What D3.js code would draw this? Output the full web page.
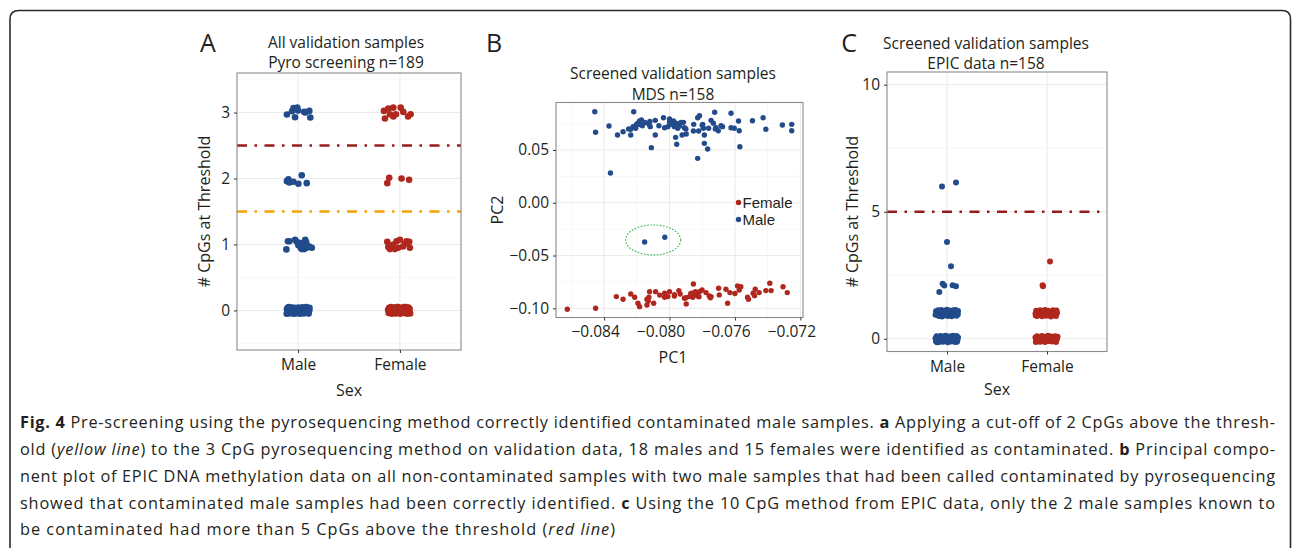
<!DOCTYPE html>
<html><head><meta charset="utf-8">
<script src="https://cdn.jsdelivr.net/npm/d3@7"></script>
<style>
body{margin:0;background:#fff}
svg{display:block}
text{font-family:"Open Sans",sans-serif;fill:#231f20}
</style>
</head><body>
<svg id="chart" width="1292" height="548"></svg>
<script>
// ---------- DATA ----------
const sexCategories = ["Male", "Female"];

// Panel A: pyro screening, [jitter offset (category units), # CpGs at threshold]
const pyroMale = [
  [-0.11,2.97],[-0.045,3.07],[-0.03,3.05],[-0.008,3.075],[0.0,3.03],[-0.03,2.93],[0.06,3.01],[0.07,3.0],[0.11,3.025],[0.12,2.925],[-0.06,3.02],
  [-0.11,1.96],[-0.095,1.99],[-0.085,1.94],[-0.046,1.95],[0.003,1.92],[0.036,2.05],[0.085,1.93],
  [-0.115,0.925],[-0.10,1.05],[-0.085,1.05],[-0.03,1.07],[-0.013,1.04],[0.003,0.99],[0.026,0.95],[0.05,1.0],[0.07,1.07],[0.08,1.03],[0.11,0.97],[0.135,0.95],[0.036,0.93],[0.06,0.93],[0.085,0.95],[0.02,1.02],
  [-0.11,0.02],[-0.105,-0.03],[-0.1,0.045],[-0.095,-0.045],[-0.085,0.0],[-0.08,0.035],[-0.075,-0.04],[-0.068,0.01],[-0.06,0.045],[-0.055,-0.025],[-0.048,-0.05],[-0.042,0.02],[-0.035,0.04],[-0.03,-0.01],[-0.022,-0.045],[-0.015,0.03],[-0.01,0.0],[-0.004,-0.035],[0.002,0.045],[0.008,0.012],[0.014,-0.02],[0.02,-0.05],[0.026,0.035],[0.032,0.0],[0.038,-0.03],[0.044,0.048],[0.05,0.015],[0.056,-0.045],[0.062,-0.01],[0.068,0.03],[0.074,-0.035],[0.08,0.05],[0.086,0.005],[0.092,-0.02],[0.098,0.035],[0.104,-0.048],[0.11,0.0],[0.112,0.04],[-0.112,-0.05],[-0.09,0.05]
];
const pyroFemale = [
  [-0.157,3.025],[-0.147,2.91],[-0.114,3.06],[-0.065,3.075],[-0.039,2.975],[0.007,3.075],[0.033,3.01],[0.08,2.94],[0.105,2.975],[-0.065,2.94],[-0.098,2.975],
  [-0.124,1.93],[-0.105,2.01],[0.016,2.0],[0.09,1.98],
  [-0.124,1.04],[-0.114,0.96],[-0.098,0.93],[-0.065,1.0],[-0.049,0.93],[-0.033,1.05],[0.0,1.07],[-0.016,0.95],[0.049,1.01],[0.065,1.05],[0.092,1.04],[0.098,0.95],[-0.08,0.98],[0.03,0.97],
  [-0.116,0.01],[-0.11,-0.04],[-0.105,0.04],[-0.095,-0.015],[-0.088,0.05],[-0.08,-0.05],[-0.072,0.02],[-0.065,-0.03],[-0.058,0.045],[-0.05,0.0],[-0.042,-0.045],[-0.035,0.03],[-0.027,-0.012],[-0.02,0.05],[-0.012,-0.035],[-0.005,0.015],[0.003,-0.05],[0.01,0.04],[0.018,-0.01],[0.025,0.025],[0.033,-0.04],[0.04,0.05],[0.048,0.0],[0.055,-0.028],[0.062,0.035],[0.07,-0.05],[0.077,0.01],[0.084,0.045],[0.09,-0.02],[0.096,0.02],[0.1,-0.045],[-0.1,0.0],[0.06,0.05],[-0.03,0.05],[0.015,0.0]
];
const pyroThresholds = [2.5, 1.5];
const pyroYTicks = [0, 1, 2, 3];

// Panel B: MDS, [PC1, PC2]
const mdsMale = [
  [-0.08457,0.0863],[-0.08452,0.0668],[-0.08370,0.0727],[-0.08361,0.0282],[-0.08318,0.0642],[-0.08284,0.0673],[-0.08237,0.0696],[-0.08237,0.0642],
  [-0.08219,0.0863],[-0.08223,0.0721],[-0.08203,0.0737],[-0.08193,0.0753],[-0.08183,0.0775],[-0.08172,0.0784],[-0.08207,0.0706],[-0.08166,0.0730],
  [-0.08126,0.0743],[-0.08118,0.0721],[-0.08087,0.0781],[-0.08087,0.0642],[-0.08111,0.0522],[-0.08065,0.0730],[-0.08037,0.0806],[-0.08030,0.0711],
  [-0.08000,0.0794],[-0.08010,0.0721],[-0.07990,0.0743],[-0.07976,0.0775],[-0.07970,0.0721],[-0.07959,0.0753],[-0.07950,0.0706],[-0.07963,0.0620],
  [-0.07956,0.0554],[-0.07939,0.0727],[-0.07915,0.0762],[-0.07909,0.0711],[-0.07923,0.0642],[-0.07898,0.0652],[-0.07852,0.0743],[-0.07854,0.0680],
  [-0.07828,0.0806],[-0.07817,0.0825],[-0.07822,0.0680],[-0.07828,0.0421],[-0.07797,0.0743],[-0.07787,0.0642],[-0.07787,0.0563],[-0.07767,0.0509],
  [-0.07793,0.0706],[-0.07761,0.0706],[-0.07746,0.0781],[-0.07732,0.0753],[-0.07724,0.0857],[-0.07716,0.0711],[-0.07702,0.0683],[-0.07685,0.0730],
  [-0.07676,0.0721],[-0.07624,0.0848],[-0.07624,0.0711],[-0.07604,0.0706],[-0.07578,0.0775],[-0.07574,0.0683],[-0.07570,0.0531],[-0.07493,0.0777],
  [-0.07428,0.0806],[-0.07411,0.0696],[-0.07310,0.0737],[-0.07253,0.0743],[-0.07253,0.0683],
  [-0.0820,0.0745],[-0.0818,0.0740],[-0.0815,0.0760],[-0.0812,0.0770],[-0.0797,0.0735],[-0.0796,0.0745],[-0.0793,0.0760],[-0.0800,0.0765],
  [-0.0790,0.0700],[-0.0825,0.0700],[-0.0772,0.0700],[-0.0780,0.0735],
  [-0.08152,-0.0371],[-0.08029,-0.0327]
];
const mdsFemale = [
  [-0.08625,-0.1009],[-0.08452,-0.0999],[-0.08325,-0.0889],[-0.08284,-0.0914],[-0.08237,-0.0864],[-0.08213,-0.0895],[-0.08193,-0.0952],[-0.08183,-0.0984],
  [-0.08138,-0.0914],[-0.08138,-0.0968],[-0.08122,-0.0842],[-0.08097,-0.0952],[-0.08085,-0.0842],[-0.08126,-0.0895],[-0.08030,-0.0857],[-0.08030,-0.0895],
  [-0.08000,-0.0842],[-0.08010,-0.0889],[-0.07970,-0.0883],[-0.07943,-0.0832],[-0.07935,-0.0864],[-0.07909,-0.0904],[-0.07898,-0.0958],[-0.07878,-0.0889],
  [-0.07862,-0.0857],[-0.07854,-0.0769],[-0.07858,-0.0895],[-0.07842,-0.0842],[-0.07828,-0.0883],[-0.07817,-0.0842],[-0.07801,-0.0826],[-0.07777,-0.0851],
  [-0.07757,-0.0883],[-0.07746,-0.0889],[-0.07700,-0.0810],[-0.07696,-0.0873],[-0.07655,-0.0819],[-0.07645,-0.0952],[-0.07631,-0.0851],[-0.07584,-0.0788],
  [-0.07574,-0.0826],[-0.07564,-0.0795],[-0.07523,-0.0895],[-0.07517,-0.0914],[-0.07489,-0.0857],[-0.07476,-0.0819],[-0.07452,-0.0851],[-0.07411,-0.0832],
  [-0.07387,-0.0762],[-0.07379,-0.0832],[-0.07306,-0.0795],[-0.07280,-0.0851],
  [-0.0797,-0.0870],[-0.0790,-0.0900],[-0.0784,-0.0870],[-0.0787,-0.0860],[-0.0782,-0.0890],[-0.0806,-0.0875],[-0.0813,-0.0930],[-0.0775,-0.0900],
  [-0.0760,-0.0860],[-0.0748,-0.0880]
];
const mdsXTicks = [-0.084, -0.080, -0.076, -0.072];
const mdsYTicks = [-0.10, -0.05, 0.00, 0.05];
const mdsHighlight = [-0.0810, -0.0352]; // centre of dotted ellipse around the 2 outlier males
const mdsLegend = ["Female", "Male"];

// Panel C: EPIC data, [jitter offset, # CpGs at threshold]
const epicMale = [
  [-0.05,5.99],[0.09,6.15],[0.0,3.81],[0.04,2.86],[-0.044,2.17],[-0.027,2.1],[-0.077,1.84],[0.056,2.11],[0.09,2.07],
  [-0.115,0.95],[-0.11,1.08],[-0.1,1.0],[-0.09,1.12],[-0.082,0.9],[-0.074,1.05],[-0.066,0.96],[-0.058,1.13],[-0.05,0.88],[-0.042,1.02],[-0.034,1.1],[-0.026,0.93],[-0.018,1.06],[-0.01,0.98],[-0.002,1.14],[0.006,0.9],[0.014,1.03],[0.022,1.11],[0.03,0.95],[0.038,1.07],[0.046,0.89],[0.054,1.0],[0.062,1.12],[0.07,0.94],[0.078,1.05],[0.086,1.13],[0.094,0.91],[0.102,1.02],[0.11,1.09],[0.108,0.96],
  [-0.115,0.02],[-0.11,-0.1],[-0.104,0.1],[-0.096,-0.04],[-0.088,0.06],[-0.08,-0.13],[-0.072,0.0],[-0.064,0.11],[-0.056,-0.07],[-0.048,0.04],[-0.04,-0.12],[-0.032,0.08],[-0.024,-0.02],[-0.016,0.12],[-0.008,-0.09],[0.0,0.03],[0.008,-0.14],[0.016,0.09],[0.024,-0.05],[0.032,0.05],[0.04,-0.11],[0.048,0.1],[0.056,-0.01],[0.064,-0.08],[0.072,0.07],[0.08,-0.13],[0.088,0.01],[0.096,0.11],[0.104,-0.06],[0.11,0.05],[-0.1,-0.14],[0.06,0.12],[-0.02,0.05],[0.1,-0.12]
];
const epicFemale = [
  [0.03,3.04],[-0.044,2.11],[-0.04,2.07],
  [-0.115,1.0],[-0.108,1.1],[-0.1,0.9],[-0.09,1.05],[-0.08,0.94],[-0.07,1.12],[-0.06,0.99],[-0.05,0.89],[-0.04,1.08],[-0.03,0.96],[-0.02,1.13],[-0.01,0.91],[0.0,1.03],[0.01,1.1],[0.02,0.93],[0.03,1.06],[0.04,0.88],[0.05,1.0],[0.06,1.12],[0.07,0.95],[0.08,1.07],[0.09,0.9],[0.1,1.02],[0.095,1.11],[-0.112,0.92],
  [-0.115,0.05],[-0.108,-0.08],[-0.1,0.1],[-0.09,-0.02],[-0.08,0.07],[-0.07,-0.12],[-0.06,0.02],[-0.05,0.11],[-0.04,-0.06],[-0.03,0.04],[-0.02,-0.13],[-0.01,0.08],[0.0,-0.03],[0.01,0.12],[0.02,-0.09],[0.03,0.01],[0.04,0.09],[0.05,-0.11],[0.06,0.03],[0.07,-0.05],[0.08,0.1],[0.09,-0.13],[0.1,0.0],[0.105,0.08],[-0.112,-0.13],[0.045,-0.02],[-0.055,-0.1],[0.025,0.06],[-0.085,0.02],[0.085,-0.07]
];
const epicThresholds = [5];
const epicYTicks = [0, 5, 10];

const captionLines = [
  [["b","Fig. 4"],["n"," Pre-screening using the pyrosequencing method correctly identified contaminated male samples. "],["b","a"],["n"," Applying a cut-off of 2 CpGs above the thresh-"]],
  [["n","old ("],["i","yellow line"],["n",") to the 3 CpG pyrosequencing method on validation data, 18 males and 15 females were identified as contaminated. "],["b","b"],["n"," Principal compo-"]],
  [["n","nent plot of EPIC DNA methylation data on all non-contaminated samples with two male samples that had been called contaminated by pyrosequencing"]],
  [["n","showed that contaminated male samples had been correctly identified. "],["b","c"],["n"," Using the 10 CpG method from EPIC data, only the 2 male samples known to"]],
  [["n","be contaminated had more than 5 CpGs above the threshold ("],["i","red line"],["n",")"]]
];

// ---------- STYLE ----------
const BLUE = "#224b8b", RED = "#b0271e", DARKRED = "#971c1c", ORANGE = "#f5a200";
const GRID = "#ebebeb", GRID_MINOR = "#f5f5f5", BORDER = "#8a8a8a";
const TICKFONT = 15.5, TITLEFONT = 15.5, AXFONT = 16;

const svg = d3.select("#chart");

// outer frame with rounded top corners
svg.append("path")
  .attr("d", "M10,548 V19 Q10,10.5 19,10.5 H1282 Q1290.5,10.5 1290.5,19 V548")
  .attr("fill", "none").attr("stroke", "#2b2b2b").attr("stroke-width", 1.6);

function styleAxis(a) {
  a.select(".domain").remove();
  a.selectAll(".tick line").attr("stroke", "#333");
  a.selectAll("text").style("font-size", TICKFONT + "px").attr("fill", "#231f20");
}

function titles(g, o) {
  o.title.forEach((t, i) => {
    g.append("text").attr("x", o.titleX).attr("y", o.titleY[i]).attr("text-anchor", "middle")
      .attr("dy", "0.35em").style("font-size", TITLEFONT + "px").text(t);
  });
  g.append("text").attr("x", o.letterX).attr("y", o.letterY).attr("text-anchor", "middle")
    .attr("dy", "0.35em").style("font-size", "25px").text(o.letter);
}

function stripPanel(o) {
  const g = svg.append("g");
  const x = d3.scalePoint().domain(sexCategories).range([o.left, o.right]).padding(0.6);
  const y = d3.scaleLinear().domain(o.yDomain).range([o.bottom, o.top]);
  g.selectAll(".ymin").data(o.yMinor).join("line")
    .attr("x1", o.left).attr("x2", o.right).attr("y1", d => y(d)).attr("y2", d => y(d))
    .attr("stroke", GRID_MINOR).attr("stroke-width", 0.8);
  g.selectAll(".ymaj").data(o.yTicks).join("line")
    .attr("x1", o.left).attr("x2", o.right).attr("y1", d => y(d)).attr("y2", d => y(d))
    .attr("stroke", GRID).attr("stroke-width", 1.1);
  g.selectAll(".xmaj").data(sexCategories).join("line")
    .attr("x1", d => x(d)).attr("x2", d => x(d)).attr("y1", o.top).attr("y2", o.bottom)
    .attr("stroke", GRID).attr("stroke-width", 1.1);
  o.thresholds.forEach(t => {
    g.append("line").attr("x1", o.left).attr("x2", o.right).attr("y1", y(t.v)).attr("y2", y(t.v))
      .attr("stroke", t.c).attr("stroke-width", 2.6).attr("stroke-dasharray", "10,7.5,2.5,7.5");
  });
  const step = x.step();
  [["Male", o.male, BLUE], ["Female", o.female, RED]].forEach(([cat, arr, col]) => {
    g.selectAll(null).data(arr).join("circle")
      .attr("cx", d => x(cat) + d[0] * step).attr("cy", d => y(d[1]))
      .attr("r", o.r).attr("fill", col);
  });
  g.append("rect").attr("x", o.left).attr("y", o.top).attr("width", o.right - o.left).attr("height", o.bottom - o.top)
    .attr("fill", "none").attr("stroke", BORDER).attr("stroke-width", 1.1);
  styleAxis(g.append("g").attr("transform", `translate(${o.left},0)`)
    .call(d3.axisLeft(y).tickValues(o.yTicks).tickSize(3).tickPadding(4).tickFormat(d3.format("d"))));
  styleAxis(g.append("g").attr("transform", `translate(0,${o.bottom})`)
    .call(d3.axisBottom(x).tickSize(3).tickPadding(6)));
  g.append("text").attr("transform", `translate(${o.yTitleX},${(o.top + o.bottom) / 2}) rotate(-90)`)
    .attr("text-anchor", "middle").attr("dy", "0.35em").style("font-size", AXFONT + "px").text("# CpGs at Threshold");
  g.append("text").attr("x", (o.left + o.right) / 2).attr("y", o.xTitleY).attr("text-anchor", "middle")
    .attr("dy", "0.35em").style("font-size", AXFONT + "px").text("Sex");
  titles(g, o);
}

// Panel A
stripPanel({
  left: 237, right: 461, top: 73, bottom: 350, yDomain: [-0.6, 3.6],
  yTicks: pyroYTicks, yMinor: [-0.5, 0.5, 1.5, 2.5, 3.5],
  thresholds: [{v: pyroThresholds[0], c: DARKRED}, {v: pyroThresholds[1], c: ORANGE}],
  male: pyroMale, female: pyroFemale, r: 3.3,
  yTitleX: 204, xTitleY: 390,
  title: ["All validation samples", "Pyro screening n=189"], titleX: 346, titleY: [43, 63],
  letter: "A", letterX: 208, letterY: 43
});

// Panel C
stripPanel({
  left: 887, right: 1107, top: 72, bottom: 351.5, yDomain: [-0.5, 10.5],
  yTicks: epicYTicks, yMinor: [2.5, 7.5],
  thresholds: [{v: epicThresholds[0], c: DARKRED}],
  male: epicMale, female: epicFemale, r: 3,
  yTitleX: 852, xTitleY: 389,
  title: ["Screened validation samples", "EPIC data n=158"], titleX: 986, titleY: [44, 64],
  letter: "C", letterX: 849, letterY: 43
});

// Panel B
(function () {
  const o = {left: 556, right: 803, top: 102.5, bottom: 317.5};
  const g = svg.append("g");
  const x = d3.scaleLinear().domain([-0.08694, -0.07184]).range([o.left, o.right]);
  const y = d3.scaleLinear().domain([-0.1087, 0.0950]).range([o.bottom, o.top]);
  const xMinor = [-0.086, -0.082, -0.078, -0.074], yMinor = [-0.075, -0.025, 0.025, 0.075];
  g.selectAll(".xm").data(xMinor).join("line").attr("x1", d => x(d)).attr("x2", d => x(d))
    .attr("y1", o.top).attr("y2", o.bottom).attr("stroke", GRID_MINOR).attr("stroke-width", 0.8);
  g.selectAll(".ym").data(yMinor).join("line").attr("y1", d => y(d)).attr("y2", d => y(d))
    .attr("x1", o.left).attr("x2", o.right).attr("stroke", GRID_MINOR).attr("stroke-width", 0.8);
  g.selectAll(".xM").data(mdsXTicks).join("line").attr("x1", d => x(d)).attr("x2", d => x(d))
    .attr("y1", o.top).attr("y2", o.bottom).attr("stroke", GRID).attr("stroke-width", 1.1);
  g.selectAll(".yM").data(mdsYTicks).join("line").attr("y1", d => y(d)).attr("y2", d => y(d))
    .attr("x1", o.left).attr("x2", o.right).attr("stroke", GRID).attr("stroke-width", 1.1);
  g.selectAll(".pm").data(mdsMale).join("circle").attr("cx", d => x(d[0])).attr("cy", d => y(d[1]))
    .attr("r", 2.7).attr("fill", BLUE);
  g.selectAll(".pf").data(mdsFemale).join("circle").attr("cx", d => x(d[0])).attr("cy", d => y(d[1]))
    .attr("r", 2.7).attr("fill", RED);
  g.append("ellipse").attr("cx", x(mdsHighlight[0])).attr("cy", y(mdsHighlight[1])).attr("rx", 27.5).attr("ry", 15)
    .attr("fill", "none").attr("stroke", "#2fb34a").attr("stroke-width", 1.1).attr("stroke-dasharray", "1.6,1.6");
  g.append("rect").attr("x", o.left).attr("y", o.top).attr("width", o.right - o.left).attr("height", o.bottom - o.top)
    .attr("fill", "none").attr("stroke", BORDER).attr("stroke-width", 1.1);
  styleAxis(g.append("g").attr("transform", `translate(${o.left},0)`)
    .call(d3.axisLeft(y).tickValues(mdsYTicks).tickSize(3).tickPadding(4).tickFormat(d3.format(".2f"))));
  const xa = g.append("g").attr("transform", `translate(0,${o.bottom})`)
    .call(d3.axisBottom(x).tickValues(mdsXTicks).tickSize(3).tickPadding(5).tickFormat(d3.format(".3f")));
  styleAxis(xa);
  xa.selectAll("text").attr("dx", "-9");
  g.append("text").attr("x", 673).attr("y", 357).attr("text-anchor", "middle").attr("dy", "0.35em")
    .style("font-size", AXFONT + "px").text("PC1");
  g.append("text").attr("transform", `translate(497,${(o.top + o.bottom) / 2}) rotate(-90)`)
    .attr("text-anchor", "middle").attr("dy", "0.35em").style("font-size", AXFONT + "px").text("PC2");
  mdsLegend.forEach((name, i) => {
    g.append("circle").attr("cx", 738.5).attr("cy", 202.5 + i * 17).attr("r", 2.7).attr("fill", i === 0 ? RED : BLUE);
    g.append("text").attr("x", 742.5).attr("y", 202.5 + i * 17).attr("dy", "0.35em")
      .style("font-family", "'Liberation Sans', Arial, sans-serif").style("font-size", "15px").text(name);
  });
  titles(g, {title: ["Screened validation samples", "MDS n=158"], titleX: 673, titleY: [74, 95],
    letter: "B", letterX: 494, letterY: 43});
})();

// Caption: lines 1-4 justified to the frame width, last line shorter
const capY = [428, 455, 482, 509, 535];
const capLen = [1255, 1255, 1255, 1255, 595];
captionLines.forEach((line, i) => {
  const t = svg.append("text").attr("x", 20).attr("y", capY[i]).style("font-size", "16.3px")
    .attr("textLength", capLen[i]).attr("lengthAdjust", "spacing");
  line.forEach(([s, txt]) => {
    const ts = t.append("tspan").text(txt);
    if (s === "b") ts.style("font-weight", "700");
    if (s === "i") ts.style("font-style", "italic");
  });
});
</script>
</body></html>
